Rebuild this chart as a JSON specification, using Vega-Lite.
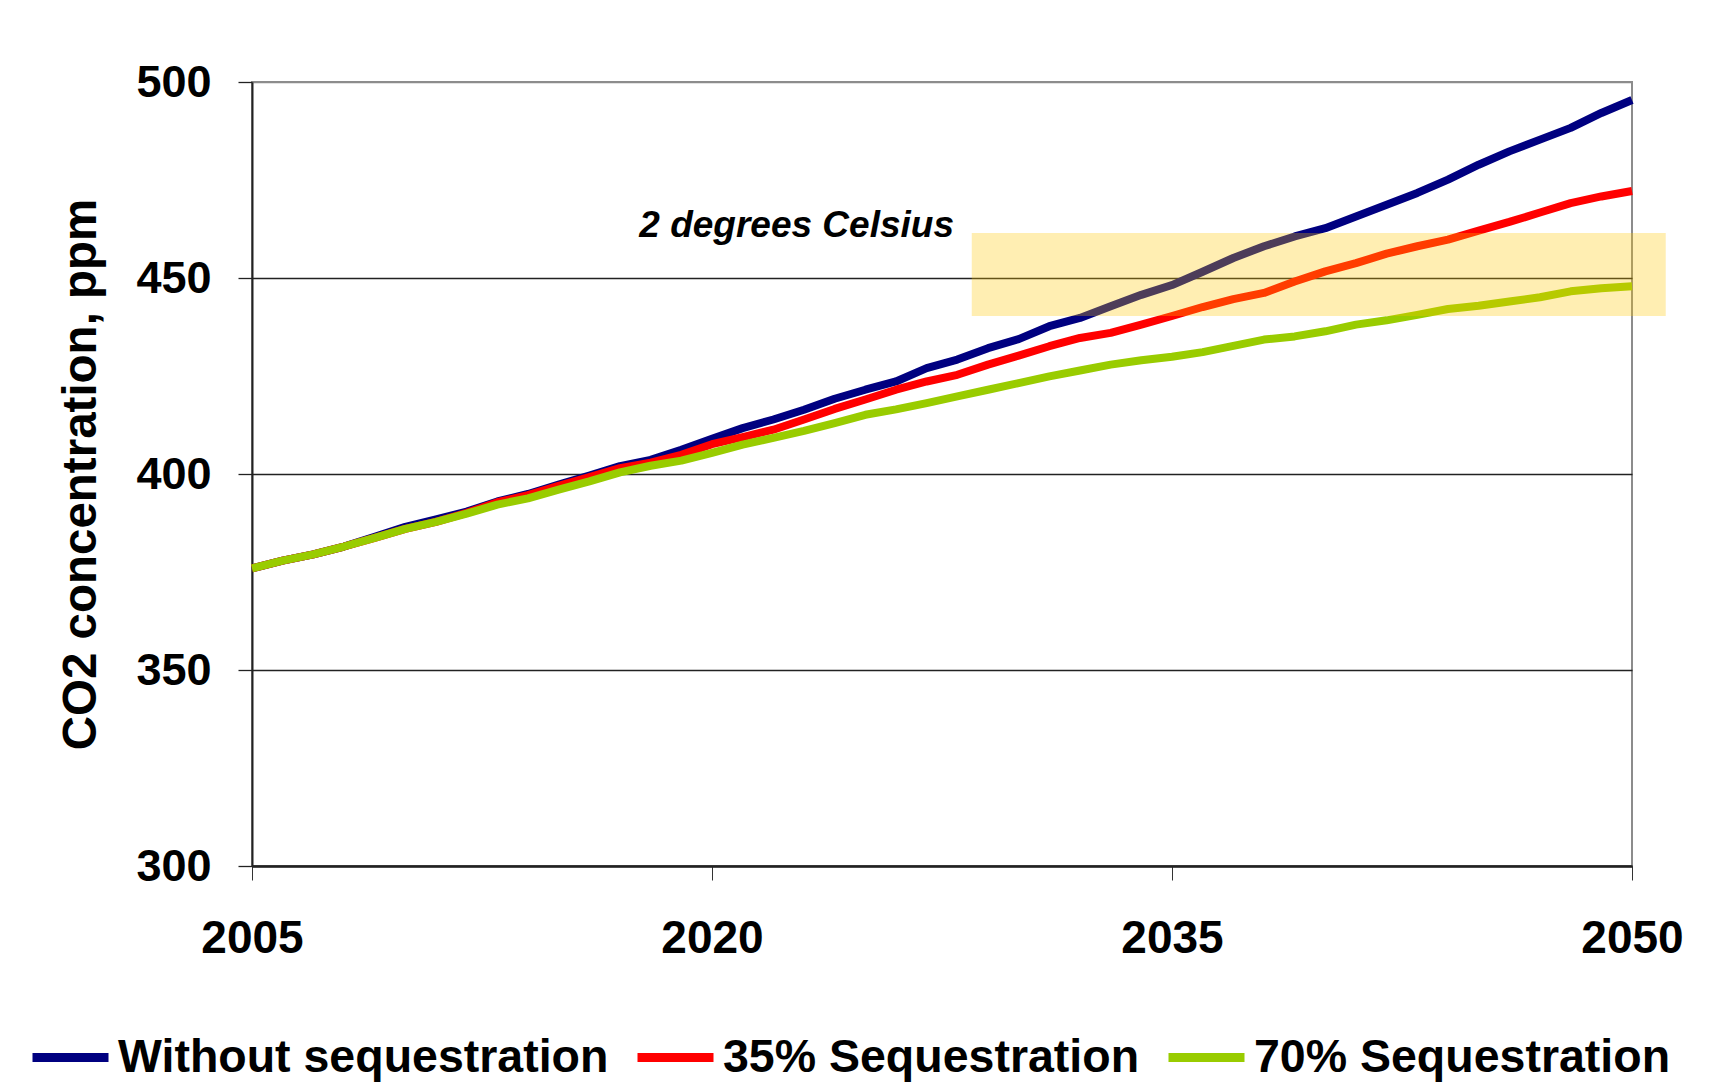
{
  "$schema": "https://vega.github.io/schema/vega-lite/v6.json",
  "autosize": {"type": "none"},
  "width": 1380,
  "height": 784,
  "padding": {"left": 252, "top": 82, "right": 80, "bottom": 225},
  "background": "white",
  "config": {
    "font": "Liberation Sans",
    "view": {"stroke": "#8c8c8c", "strokeWidth": 2}
  },
  "datasets": {
    "series": [
      {"scenario": "Without sequestration", "year": 2005, "ppm": 375.9},
      {"scenario": "Without sequestration", "year": 2006, "ppm": 377.9},
      {"scenario": "Without sequestration", "year": 2007, "ppm": 379.5},
      {"scenario": "Without sequestration", "year": 2008, "ppm": 381.5},
      {"scenario": "Without sequestration", "year": 2009, "ppm": 384.0},
      {"scenario": "Without sequestration", "year": 2010, "ppm": 386.5},
      {"scenario": "Without sequestration", "year": 2011, "ppm": 388.4},
      {"scenario": "Without sequestration", "year": 2012, "ppm": 390.4},
      {"scenario": "Without sequestration", "year": 2013, "ppm": 393.0},
      {"scenario": "Without sequestration", "year": 2014, "ppm": 394.9},
      {"scenario": "Without sequestration", "year": 2015, "ppm": 397.3},
      {"scenario": "Without sequestration", "year": 2016, "ppm": 399.6},
      {"scenario": "Without sequestration", "year": 2017, "ppm": 402.0},
      {"scenario": "Without sequestration", "year": 2018, "ppm": 403.6},
      {"scenario": "Without sequestration", "year": 2019, "ppm": 406.2},
      {"scenario": "Without sequestration", "year": 2020, "ppm": 409.0},
      {"scenario": "Without sequestration", "year": 2021, "ppm": 411.7},
      {"scenario": "Without sequestration", "year": 2022, "ppm": 413.9},
      {"scenario": "Without sequestration", "year": 2023, "ppm": 416.4},
      {"scenario": "Without sequestration", "year": 2024, "ppm": 419.2},
      {"scenario": "Without sequestration", "year": 2025, "ppm": 421.5},
      {"scenario": "Without sequestration", "year": 2026, "ppm": 423.6},
      {"scenario": "Without sequestration", "year": 2027, "ppm": 427.0},
      {"scenario": "Without sequestration", "year": 2028, "ppm": 429.2},
      {"scenario": "Without sequestration", "year": 2029, "ppm": 432.1},
      {"scenario": "Without sequestration", "year": 2030, "ppm": 434.4},
      {"scenario": "Without sequestration", "year": 2031, "ppm": 437.7},
      {"scenario": "Without sequestration", "year": 2032, "ppm": 439.8},
      {"scenario": "Without sequestration", "year": 2033, "ppm": 442.8},
      {"scenario": "Without sequestration", "year": 2034, "ppm": 445.7},
      {"scenario": "Without sequestration", "year": 2035, "ppm": 448.2},
      {"scenario": "Without sequestration", "year": 2036, "ppm": 451.6},
      {"scenario": "Without sequestration", "year": 2037, "ppm": 455.1},
      {"scenario": "Without sequestration", "year": 2038, "ppm": 458.1},
      {"scenario": "Without sequestration", "year": 2039, "ppm": 460.6},
      {"scenario": "Without sequestration", "year": 2040, "ppm": 462.7},
      {"scenario": "Without sequestration", "year": 2041, "ppm": 465.7},
      {"scenario": "Without sequestration", "year": 2042, "ppm": 468.7},
      {"scenario": "Without sequestration", "year": 2043, "ppm": 471.7},
      {"scenario": "Without sequestration", "year": 2044, "ppm": 475.1},
      {"scenario": "Without sequestration", "year": 2045, "ppm": 478.9},
      {"scenario": "Without sequestration", "year": 2046, "ppm": 482.3},
      {"scenario": "Without sequestration", "year": 2047, "ppm": 485.3},
      {"scenario": "Without sequestration", "year": 2048, "ppm": 488.3},
      {"scenario": "Without sequestration", "year": 2049, "ppm": 492.1},
      {"scenario": "Without sequestration", "year": 2050, "ppm": 495.4},
      {"scenario": "35% Sequestration", "year": 2005, "ppm": 375.9},
      {"scenario": "35% Sequestration", "year": 2006, "ppm": 377.9},
      {"scenario": "35% Sequestration", "year": 2007, "ppm": 379.5},
      {"scenario": "35% Sequestration", "year": 2008, "ppm": 381.5},
      {"scenario": "35% Sequestration", "year": 2009, "ppm": 383.7},
      {"scenario": "35% Sequestration", "year": 2010, "ppm": 386.0},
      {"scenario": "35% Sequestration", "year": 2011, "ppm": 387.8},
      {"scenario": "35% Sequestration", "year": 2012, "ppm": 390.1},
      {"scenario": "35% Sequestration", "year": 2013, "ppm": 392.8},
      {"scenario": "35% Sequestration", "year": 2014, "ppm": 394.6},
      {"scenario": "35% Sequestration", "year": 2015, "ppm": 397.0},
      {"scenario": "35% Sequestration", "year": 2016, "ppm": 399.2},
      {"scenario": "35% Sequestration", "year": 2017, "ppm": 401.5},
      {"scenario": "35% Sequestration", "year": 2018, "ppm": 402.9},
      {"scenario": "35% Sequestration", "year": 2019, "ppm": 404.9},
      {"scenario": "35% Sequestration", "year": 2020, "ppm": 407.6},
      {"scenario": "35% Sequestration", "year": 2021, "ppm": 409.4},
      {"scenario": "35% Sequestration", "year": 2022, "ppm": 411.3},
      {"scenario": "35% Sequestration", "year": 2023, "ppm": 413.9},
      {"scenario": "35% Sequestration", "year": 2024, "ppm": 416.6},
      {"scenario": "35% Sequestration", "year": 2025, "ppm": 419.0},
      {"scenario": "35% Sequestration", "year": 2026, "ppm": 421.5},
      {"scenario": "35% Sequestration", "year": 2027, "ppm": 423.6},
      {"scenario": "35% Sequestration", "year": 2028, "ppm": 425.3},
      {"scenario": "35% Sequestration", "year": 2029, "ppm": 427.9},
      {"scenario": "35% Sequestration", "year": 2030, "ppm": 430.2},
      {"scenario": "35% Sequestration", "year": 2031, "ppm": 432.6},
      {"scenario": "35% Sequestration", "year": 2032, "ppm": 434.7},
      {"scenario": "35% Sequestration", "year": 2033, "ppm": 436.0},
      {"scenario": "35% Sequestration", "year": 2034, "ppm": 438.1},
      {"scenario": "35% Sequestration", "year": 2035, "ppm": 440.3},
      {"scenario": "35% Sequestration", "year": 2036, "ppm": 442.6},
      {"scenario": "35% Sequestration", "year": 2037, "ppm": 444.6},
      {"scenario": "35% Sequestration", "year": 2038, "ppm": 446.2},
      {"scenario": "35% Sequestration", "year": 2039, "ppm": 449.1},
      {"scenario": "35% Sequestration", "year": 2040, "ppm": 451.7},
      {"scenario": "35% Sequestration", "year": 2041, "ppm": 453.8},
      {"scenario": "35% Sequestration", "year": 2042, "ppm": 456.2},
      {"scenario": "35% Sequestration", "year": 2043, "ppm": 458.1},
      {"scenario": "35% Sequestration", "year": 2044, "ppm": 459.8},
      {"scenario": "35% Sequestration", "year": 2045, "ppm": 462.1},
      {"scenario": "35% Sequestration", "year": 2046, "ppm": 464.3},
      {"scenario": "35% Sequestration", "year": 2047, "ppm": 466.7},
      {"scenario": "35% Sequestration", "year": 2048, "ppm": 469.1},
      {"scenario": "35% Sequestration", "year": 2049, "ppm": 470.8},
      {"scenario": "35% Sequestration", "year": 2050, "ppm": 472.2},
      {"scenario": "70% Sequestration", "year": 2005, "ppm": 375.9},
      {"scenario": "70% Sequestration", "year": 2006, "ppm": 377.9},
      {"scenario": "70% Sequestration", "year": 2007, "ppm": 379.5},
      {"scenario": "70% Sequestration", "year": 2008, "ppm": 381.5},
      {"scenario": "70% Sequestration", "year": 2009, "ppm": 383.7},
      {"scenario": "70% Sequestration", "year": 2010, "ppm": 386.0},
      {"scenario": "70% Sequestration", "year": 2011, "ppm": 387.8},
      {"scenario": "70% Sequestration", "year": 2012, "ppm": 389.9},
      {"scenario": "70% Sequestration", "year": 2013, "ppm": 392.2},
      {"scenario": "70% Sequestration", "year": 2014, "ppm": 393.8},
      {"scenario": "70% Sequestration", "year": 2015, "ppm": 396.0},
      {"scenario": "70% Sequestration", "year": 2016, "ppm": 398.1},
      {"scenario": "70% Sequestration", "year": 2017, "ppm": 400.4},
      {"scenario": "70% Sequestration", "year": 2018, "ppm": 402.1},
      {"scenario": "70% Sequestration", "year": 2019, "ppm": 403.4},
      {"scenario": "70% Sequestration", "year": 2020, "ppm": 405.4},
      {"scenario": "70% Sequestration", "year": 2021, "ppm": 407.5},
      {"scenario": "70% Sequestration", "year": 2022, "ppm": 409.2},
      {"scenario": "70% Sequestration", "year": 2023, "ppm": 411.0},
      {"scenario": "70% Sequestration", "year": 2024, "ppm": 413.0},
      {"scenario": "70% Sequestration", "year": 2025, "ppm": 415.1},
      {"scenario": "70% Sequestration", "year": 2026, "ppm": 416.5},
      {"scenario": "70% Sequestration", "year": 2027, "ppm": 418.1},
      {"scenario": "70% Sequestration", "year": 2028, "ppm": 419.8},
      {"scenario": "70% Sequestration", "year": 2029, "ppm": 421.5},
      {"scenario": "70% Sequestration", "year": 2030, "ppm": 423.2},
      {"scenario": "70% Sequestration", "year": 2031, "ppm": 424.9},
      {"scenario": "70% Sequestration", "year": 2032, "ppm": 426.4},
      {"scenario": "70% Sequestration", "year": 2033, "ppm": 427.9},
      {"scenario": "70% Sequestration", "year": 2034, "ppm": 429.0},
      {"scenario": "70% Sequestration", "year": 2035, "ppm": 429.9},
      {"scenario": "70% Sequestration", "year": 2036, "ppm": 431.1},
      {"scenario": "70% Sequestration", "year": 2037, "ppm": 432.7},
      {"scenario": "70% Sequestration", "year": 2038, "ppm": 434.3},
      {"scenario": "70% Sequestration", "year": 2039, "ppm": 435.1},
      {"scenario": "70% Sequestration", "year": 2040, "ppm": 436.4},
      {"scenario": "70% Sequestration", "year": 2041, "ppm": 438.1},
      {"scenario": "70% Sequestration", "year": 2042, "ppm": 439.2},
      {"scenario": "70% Sequestration", "year": 2043, "ppm": 440.6},
      {"scenario": "70% Sequestration", "year": 2044, "ppm": 442.1},
      {"scenario": "70% Sequestration", "year": 2045, "ppm": 442.9},
      {"scenario": "70% Sequestration", "year": 2046, "ppm": 444.0},
      {"scenario": "70% Sequestration", "year": 2047, "ppm": 445.1},
      {"scenario": "70% Sequestration", "year": 2048, "ppm": 446.6},
      {"scenario": "70% Sequestration", "year": 2049, "ppm": 447.4},
      {"scenario": "70% Sequestration", "year": 2050, "ppm": 447.9}
    ],
    "band": [
      {"from_year": 2028.47, "to_year": 2051.1, "low": 440.3, "high": 461.5}
    ],
    "note": [
      {"year": 2017.63, "ppm": 460.5, "text": "2 degrees Celsius"}
    ]
  },
  "layer": [
    {
      "data": {"name": "series"},
      "mark": {"type": "line", "strokeWidth": 8, "strokeJoin": "round", "strokeCap": "butt"},
      "encoding": {
        "x": {
          "field": "year", "type": "quantitative", "title": null,
          "scale": {"domain": [2005, 2050], "nice": false, "zero": false},
          "axis": {
            "values": [2005, 2020, 2035, 2050], "format": "d",
            "labelFontSize": 46, "labelFontWeight": "bold", "labelColor": "black",
            "labelPadding": 36, "labelFlush": false, "labelOverlap": false,
            "tickSize": 14, "tickColor": "#333333", "tickWidth": 1,
            "domainColor": "#222222", "domainWidth": 2.5, "grid": false
          }
        },
        "y": {
          "field": "ppm", "type": "quantitative", "title": "CO2 concentration, ppm",
          "scale": {"domain": [300, 500], "nice": false, "zero": false},
          "axis": {
            "values": [300, 350, 400, 450, 500],
            "labelFontSize": 45, "labelFontWeight": "bold", "labelColor": "black",
            "labelPadding": 27,
            "tickSize": 14, "tickColor": "#222222", "tickWidth": 1.3,
            "domainColor": "#222222", "domainWidth": 2,
            "grid": true,
            "gridColor": {"condition": {"test": "datum.value === 500", "value": "#8c8c8c"}, "value": "#222222"},
            "gridWidth": 1.3, "gridOpacity": 1,
            "titleFontSize": 47.5, "titleFontWeight": "bold", "titleColor": "black",
            "titleAngle": -90, "titleX": -157, "titleY": 392,
            "titleAlign": "center", "titleBaseline": "alphabetic"
          }
        },
        "color": {
          "field": "scenario", "type": "nominal",
          "scale": {
            "domain": ["Without sequestration", "35% Sequestration", "70% Sequestration"],
            "range": ["#000080", "#FF0000", "#99CC00"]
          },
          "legend": {
            "orient": "none", "legendX": -224, "legendY": 933,
            "direction": "horizontal", "title": null,
            "symbolType": "stroke", "symbolSize": 5776, "symbolStrokeWidth": 9,
            "labelFontSize": 46.5, "labelFontWeight": "bold", "labelColor": "black",
            "labelOffset": 5, "columnPadding": 10, "padding": 0, "labelLimit": 1000
          }
        }
      }
    },
    {
      "data": {"name": "band"},
      "mark": {"type": "rect", "color": "#FFC800", "opacity": 0.3, "clip": false},
      "encoding": {
        "x": {"field": "from_year", "type": "quantitative", "title": null},
        "x2": {"field": "to_year"},
        "y": {"field": "low", "type": "quantitative", "title": "CO2 concentration, ppm"},
        "y2": {"field": "high"}
      }
    },
    {
      "data": {"name": "note"},
      "mark": {"type": "text", "align": "left", "baseline": "alphabetic", "fontSize": 37, "fontWeight": "bold", "fontStyle": "italic", "color": "black"},
      "encoding": {
        "x": {"field": "year", "type": "quantitative", "title": null},
        "y": {"field": "ppm", "type": "quantitative", "title": "CO2 concentration, ppm"},
        "text": {"field": "text"}
      }
    }
  ]
}
